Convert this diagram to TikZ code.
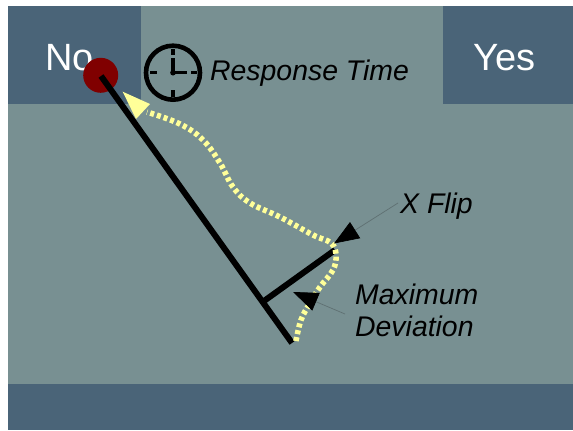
\documentclass[tikz,border=0pt]{standalone}
\usepackage{fontspec}
\setmainfont{Liberation Sans}
\usetikzlibrary{arrows.meta,calc}
\definecolor{panelbg}{HTML}{789092}
\definecolor{panelbox}{HTML}{4A6478}
\definecolor{pathyellow}{HTML}{FFFF99}
\definecolor{calloutgrey}{HTML}{5F7072}
\definecolor{dotred}{HTML}{800000}
\tikzset{
  zone/.style={fill=panelbox,draw=none},
  zonelabel/.style={text=white,font=\fontsize{38}{38}\selectfont,inner sep=0pt},
  notelabel/.style={text=black,font=\fontsize{28.4}{33}\selectfont\itshape,inner sep=0pt},
  axisline/.style={draw=black,line width=6pt},
  mousepath/.style={draw=pathyellow,line width=5.6pt,dash pattern=on 4pt off 3pt},
  callout/.style={draw=calloutgrey,line width=.7pt,-{Triangle[color=black,fill=black,length=25pt,width=19pt]}},
  clockline/.style={draw=black,line width=3.4pt}
}
\begin{document}
\begin{tikzpicture}[x=1pt,y=-1pt]
\useasboundingbox (0,0) rectangle (573,431);
\fill[white] (0,0) rectangle (573,431);
\fill[panelbg] (8,6) rectangle (573,430);
\fill[zone] (8,6) rectangle (141,104);
\fill[zone] (443,6) rectangle (573,104);
\fill[zone] (8,384) rectangle (573,430);
\node[zonelabel] (no) at (69.5,57.5) {No};
\node[zonelabel] (yes) at (504.5,57.5) {Yes};
% response marker
\node[circle,fill=dotred,minimum size=35pt,inner sep=0pt] (dot) at (100.7,75.3) {};
% axes
\coordinate (start) at (101,76);
\coordinate (finish) at (292,343);
\coordinate (foot) at (264,301);
\coordinate (flip) at (335,250);
\draw[axisline] (start) -- (finish);
\draw[axisline] (foot) -- (flip);
% trajectory
\draw[mousepath] plot[smooth,tension=.65] coordinates {(296,341) (301,320) (310,303) (320,287) (333,270) (336,255) (331,243) (313,235) (280,217) (250,203) (233,187) (220,163) (203,140) (180,124) (147,112)};
\coordinate (headtip) at (122.7,91.7);
\fill[pathyellow] (headtip) -- (150,104) -- (136,119) -- cycle;
% clock
\node[circle,draw=black,line width=4.6pt,minimum size=54pt,inner sep=0pt] (clock) at (173,72.7) {};
\draw[clockline] (173,49) -- (173,55);
\draw[clockline] (173,90) -- (173,97);
\draw[clockline] (150,72.7) -- (157,72.7);
\draw[clockline] (191,72.7) -- (197,72.7);
\draw[clockline] (173,58) -- (173,72.7) -- (187,72.7);
\fill[black] (173,72.7) circle (2.8);
% labels
\node[notelabel,anchor=base west] (rt) at (210,80) {Response Time};
\node[notelabel,anchor=base west] (xf) at (400,213) {X Flip};
\node[notelabel,anchor=base west] (md1) at (355,304) {Maximum};
\node[notelabel,anchor=base west] (md2) at (355,336) {Deviation};
% callouts
\coordinate (xflipfrom) at (398,203);
\coordinate (xfliptip) at (334,243.5);
\coordinate (maxfrom) at (345,314);
\coordinate (maxtip) at (293,292);
\draw[callout] (xflipfrom) -- (xfliptip);
\draw[callout] (maxfrom) -- (maxtip);
\end{tikzpicture}
\end{document}
